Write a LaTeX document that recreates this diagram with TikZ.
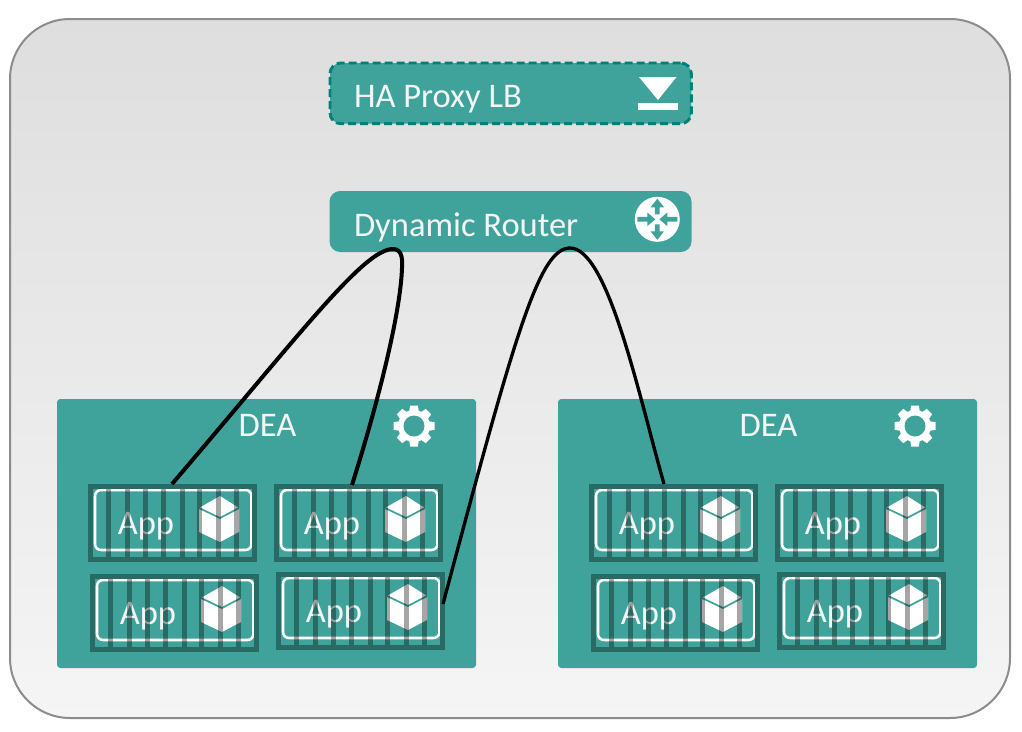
\documentclass[tikz,border=0pt]{standalone}
\usepackage{fontspec}
\setmainfont{Carlito}
\definecolor{tealbox}{HTML}{3FA39C}
\definecolor{tealdark}{HTML}{296A65}
\definecolor{tealdash}{HTML}{00807A}
\definecolor{textwhite}{HTML}{F4F4F4}
\tikzset{
  every node/.append style={outer sep=0pt},
  panel/.style={draw=black!45,line width=1.5pt,rounded corners=45pt,top color=black!13,bottom color=black!4,anchor=north west,inner sep=0pt},
  tealpanel/.style={fill=tealbox,anchor=north west,inner sep=0pt},
  label/.style={text=textwhite,font=\fontsize{25.9}{30}\selectfont,inner sep=0pt},
  appframe/.style={draw=tealdark,line width=3.75pt,anchor=north west,inner sep=0pt,minimum width=123pt,minimum height=54.75pt},
  appring/.style={draw=white,line width=1.9pt,rounded corners=4.5pt},
  appbar/.style={fill=black,fill opacity=0.35},
  wire/.style={draw=black,line cap=butt,line join=round},
}
\newcommand{\appunit}[3]{%
  \begin{scope}[shift={(#2,#3)}]
    \draw[appring] (7,6) rectangle (163.5,66);
    \node[label] (#1txt) at (58,42) {App};
    \fill[white] (132,12) -- (151,24) -- (151,48) -- (132,58) -- (111,48) -- (111,24) -- cycle;
    \draw[tealbox,line width=1.3pt] (111,24) -- (132,34) -- (151,24);
    \foreach \bx in {20.3,39,57,75,94,111,130,148}
      \fill[appbar] (\bx-2.5,3) rectangle (\bx+2.5,74);
    \node[appframe] (#1) at (2.5,2.5) {};
  \end{scope}}
\newcommand{\gearicon}[2]{%
  \begin{scope}[shift={(#1,#2)}]
    \fill[white] (0,0) circle [radius=16];
    \foreach \ang in {0,45,...,315}
      \fill[white,rotate=\ang] (-3.8,-20.5) -- (3.8,-20.5) -- (5.2,-12) -- (-5.2,-12) -- cycle;
    \fill[tealbox] (0,0) circle [radius=10.5];
  \end{scope}}
\begin{document}
\begin{tikzpicture}[x=0.75pt,y=-0.75pt]
\useasboundingbox (0,0) rectangle (1022,732);
\node[panel,minimum width=750pt,minimum height=524.25pt] (outer) at (10,19) {};

% HA Proxy
\node[tealpanel,draw=tealdash,line width=2.2pt,dash pattern=on 6pt off 3pt,rounded corners=8pt,minimum width=271pt,minimum height=45.5pt] (ha) at (330,63) {};
\node[label,anchor=base west] (hatxt) at (354,107) {HA Proxy LB};
\fill[white] (639,77) -- (676.5,77) -- (658,100) -- cycle;
\fill[white] (638,102.5) rectangle (678,110);

% Router
\node[tealpanel,rounded corners=8pt,minimum width=271.5pt,minimum height=45.75pt] (router) at (329.5,191) {};
\node[label,anchor=base west] (routertxt) at (354,236) {Dynamic Router};
\begin{scope}[shift={(657.3,219.3)}]
  \fill[white] (0,0) circle [radius=22.5];
  \foreach \ang in {0,180}
    \fill[tealbox,rotate=\ang] (-2.4,-5) -- (2.4,-5) -- (2.4,-12) -- (6.8,-12) -- (0,-20.5) -- (-6.8,-12) -- (-2.4,-12) -- cycle;
  \foreach \ang in {90,270}
    \fill[tealbox,rotate=\ang] (-2.4,-20) -- (2.4,-20) -- (2.4,-10) -- (6.8,-10) -- (0,-2) -- (-6.8,-10) -- (-2.4,-10) -- cycle;
\end{scope}

% DEA panels
\node[tealpanel,rounded corners=2.5pt,minimum width=314.25pt,minimum height=201.75pt] (deaL) at (57,399) {};
\node[tealpanel,rounded corners=2.5pt,minimum width=314.25pt,minimum height=201.75pt] (deaR) at (558,399) {};
\node[label] (deaLtxt) at (267.5,425.5) {DEA};
\node[label] (deaRtxt) at (768.5,425.5) {DEA};
\gearicon{414}{426}
\gearicon{915}{426}

\appunit{aA}{88}{484}
\appunit{aB}{274}{484}
\appunit{aC}{90}{574}
\appunit{aD}{276}{572}
\appunit{bA}{589}{484}
\appunit{bB}{775}{484}
\appunit{bC}{591}{574}
\appunit{bD}{777}{572}

% Connectors
\coordinate (peakA) at (393,249);
\coordinate (peakB) at (570,248);
\coordinate (endA) at (172,484);
\coordinate (endB) at (352,485);
\coordinate (endD) at (443,604);
\coordinate (endE) at (664,484);
\draw[wire,line width=3pt] (endA) .. controls (301,333) and (364,249) .. (peakA)
  .. controls (400,249) and (403,255) .. (402,268)
  .. controls (401,300) and (388,370) .. (endB);
\draw[wire,line width=2.5pt] (endD) .. controls (515,334) and (539,248) .. (peakB)
  .. controls (608,248) and (639,396) .. (endE);
\end{tikzpicture}
\end{document}
